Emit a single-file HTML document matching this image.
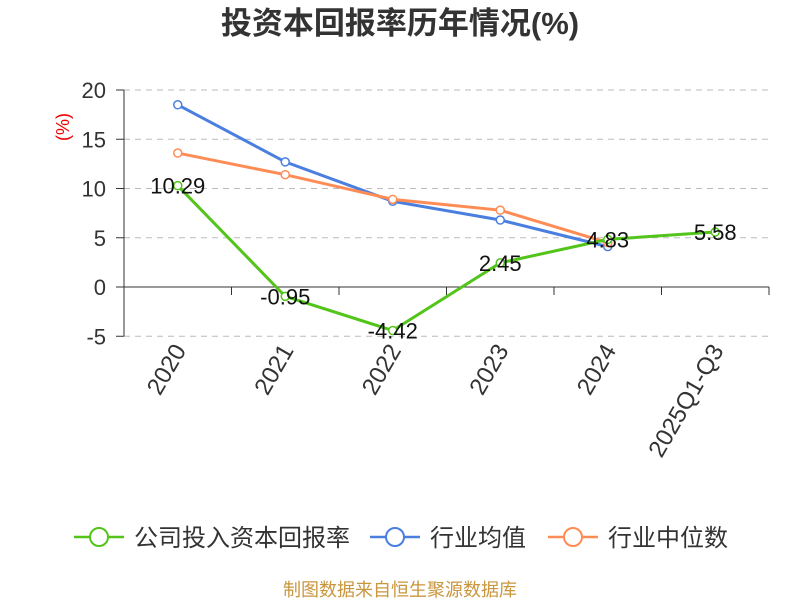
<!DOCTYPE html>
<html><head><meta charset="utf-8">
<style>
body{margin:0;background:#fff;}
svg text{font-family:"Liberation Sans","Noto Sans CJK SC",sans-serif;}
</style></head>
<body>
<svg id="chart" width="800" height="600" xmlns="http://www.w3.org/2000/svg">
<text x="400" y="34" text-anchor="middle" font-size="31" font-weight="bold" fill="#333">投资本回报率历年情况(%)</text>
<text transform="translate(69,127) rotate(-90)" text-anchor="middle" font-size="18" fill="#e00">(%)</text>
<g id="grid"></g><g id="series"></g>
<g>
 <g><line x1="74" y1="537" x2="124" y2="537" stroke="#52c41a" stroke-width="2.5"/><circle cx="99" cy="537" r="9" fill="#fff" stroke="#52c41a" stroke-width="2"/><text x="134" y="546" font-size="24" fill="#333">公司投入资本回报率</text></g>
 <g><line x1="370" y1="537" x2="420" y2="537" stroke="#4a7fe0" stroke-width="2.5"/><circle cx="395" cy="537" r="9" fill="#fff" stroke="#4a7fe0" stroke-width="2"/><text x="430" y="546" font-size="24" fill="#333">行业均值</text></g>
 <g><line x1="548" y1="537" x2="598" y2="537" stroke="#ff8c55" stroke-width="2.5"/><circle cx="573" cy="537" r="9" fill="#fff" stroke="#ff8c55" stroke-width="2"/><text x="608" y="546" font-size="24" fill="#333">行业中位数</text></g>
</g>
<text x="400" y="596" text-anchor="middle" font-size="18" fill="#c8963c">制图数据来自恒生聚源数据库</text>
</svg>
<script>
const categories=["2020","2021","2022","2023","2024","2025Q1-Q3"];
const companyValues=[10.29,-0.95,-4.42,2.45,4.83,5.58];
const averageValues=[18.5,12.7,8.7,6.8,4.1];
const medianValues=[13.6,11.4,8.9,7.8,4.5];
const yTicks=[-5,0,5,10,15,20];
const NS="http://www.w3.org/2000/svg";
const left=124,right=769,bw=(right-left)/categories.length;
const x=i=>left+bw*(i+0.5);
const y=v=>287-v*9.85;
function mk(tag,attrs,parent){const e=document.createElementNS(NS,tag);for(const k in attrs)e.setAttribute(k,attrs[k]);parent.appendChild(e);return e;}
const grid=document.getElementById('grid'),ser=document.getElementById('series');
yTicks.forEach(t=>{
 if(t!==0){const l=mk('line',{x1:left,x2:right,y1:y(t),y2:y(t),stroke:'#bbb','stroke-dasharray':'6,5'},grid);
 
 }
 mk('line',{x1:left-8,x2:left,y1:y(t),y2:y(t),stroke:'#333'},grid);
 const tx=mk('text',{x:106,y:y(t)+8,'text-anchor':'end','font-size':22,fill:'#333'},grid);tx.textContent=t;
 
 
});
mk('line',{x1:left,x2:left,y1:y(20),y2:y(-5),stroke:'#333'},grid);
const ax=mk('line',{x1:left,x2:right,y1:y(0),y2:y(0),stroke:'#333'},grid);


for(let i=0;i<=categories.length;i++)mk('line',{x1:left+bw*i,x2:left+bw*i,y1:y(0),y2:y(0)+8,stroke:'#333'},grid);
categories.forEach((c,i)=>{
 const t=mk('text',{transform:`translate(${x(i)+9},${y(-5)+14}) rotate(-60)`,'text-anchor':'end','font-size':24,fill:'#333'},grid);t.textContent=c;
 
 
});
function series(vals,color,name,labels){
 const g=mk('g',{},ser);
 
 
 mk('polyline',{points:vals.map((v,i)=>x(i)+','+y(v)).join(' '),fill:'none',stroke:color,'stroke-width':3},g);
 vals.forEach((v,i)=>{const c=mk('circle',{cx:x(i),cy:y(v),r:4,fill:'#fff',stroke:color,'stroke-width':1.5},g);
  
  
  if(labels){const t=mk('text',{x:x(i),y:y(v)+8,'text-anchor':'middle','font-size':22,fill:'#111'},g);t.textContent=v.toFixed(2);
  
  }
 });
}
series(averageValues,'#4a7fe0','industry-average-line',false);
series(medianValues,'#ff8c55','industry-median-line',false);
series(companyValues,'#52c41a','company-line',true);
</script>
</body></html>
